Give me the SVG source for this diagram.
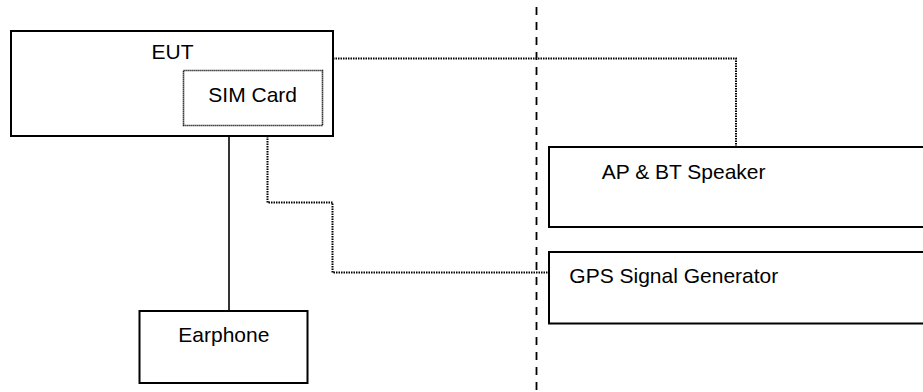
<svg xmlns="http://www.w3.org/2000/svg" width="923" height="392" viewBox="0 0 923 392">
<style>
.box{fill:#fff;stroke:#000;stroke-width:2}
.sim{fill:none;stroke:#000;stroke-width:1.6;stroke-dasharray:1.2 0.8}
.dot{fill:none;stroke:#000;stroke-width:2;stroke-dasharray:1.5 1}
.solid{fill:none;stroke:#000;stroke-width:1.6}
.dash{fill:none;stroke:#000;stroke-width:1.8;stroke-dasharray:8 7}
text{font-family:"Liberation Sans",Arial,sans-serif;font-size:21px;fill:#000}
</style>
<rect width="923" height="392" fill="#fff"/>
<g id="divider"><line class="dash" x1="536.5" y1="7" x2="536.5" y2="392"/></g>
<g id="connectors">
<polyline class="dot" points="333,58.5 736,58.5 736,147"/>
<polyline class="dot" points="267.5,136 267.5,202.5 332.5,202.5 332.5,272.5 549,272.5"/>
<line class="solid" x1="229" y1="136" x2="229" y2="311"/>
</g>
<g id="eut">
<rect class="box" x="11" y="31" width="322" height="105"/>
<text x="151.5" y="59">EUT</text>
</g>
<g id="sim">
<rect class="sim" x="183.5" y="70.5" width="139" height="55"/>
<text x="208.3" y="101.7">SIM Card</text>
</g>
<g id="speaker">
<rect class="box" x="549" y="147" width="380" height="80"/>
<text x="601.7" y="179">AP &amp; BT Speaker</text>
</g>
<g id="gps">
<rect class="box" x="549" y="252" width="380" height="71.5"/>
<text x="569.3" y="283">GPS Signal Generator</text>
</g>
<g id="earphone">
<rect class="box" x="139.5" y="311" width="168" height="72"/>
<text x="178.3" y="342">Earphone</text>
</g>
</svg>
